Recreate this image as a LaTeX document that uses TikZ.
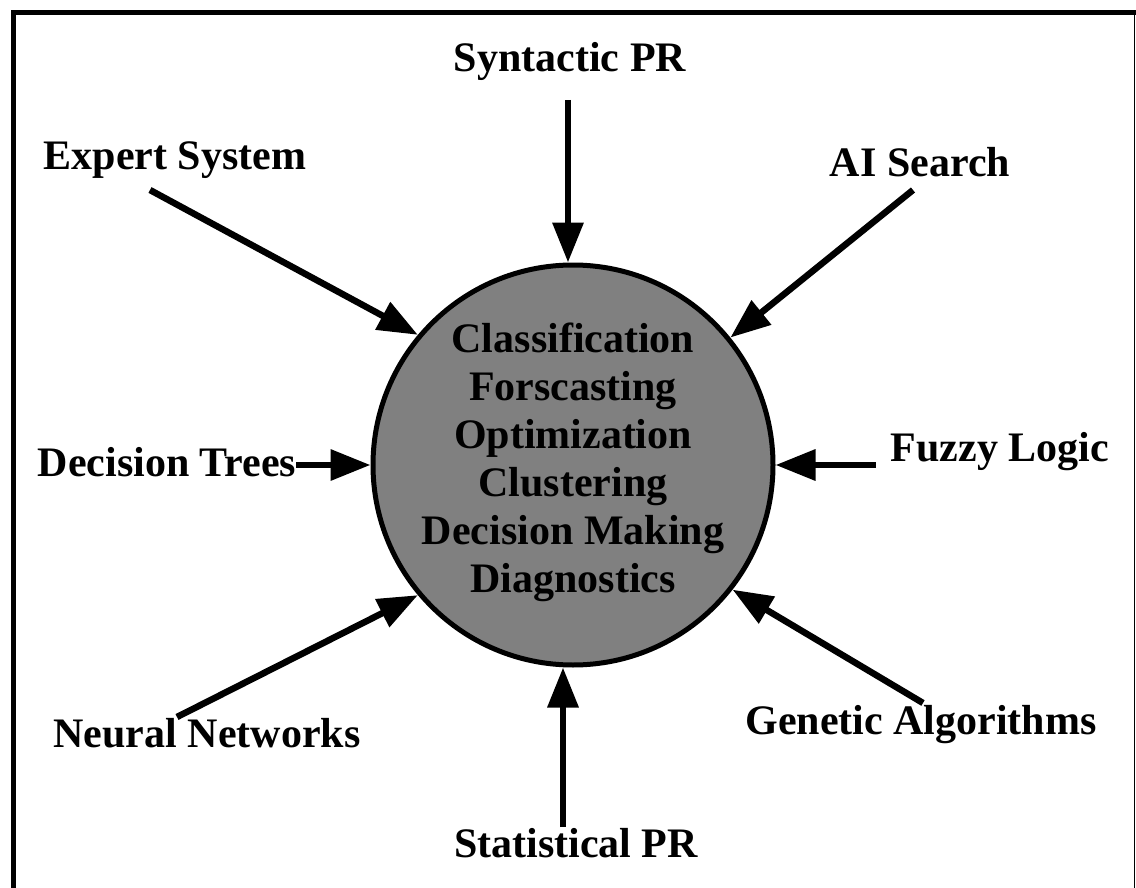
\documentclass[tikz,border=0pt]{standalone}
\usepackage{fontspec}
\setmainfont{Liberation Serif}
\usetikzlibrary{arrows.meta}
\begin{document}
\begin{tikzpicture}[x=1pt,y=-1pt,
  lbl/.style={font=\bfseries\fontsize{42}{48}\selectfont, inner sep=0pt, anchor=center},
  arr/.style={line width=6.5pt, -{Triangle[length=40pt,width=30pt]}},
  frame/.style={line width=5pt}]
\useasboundingbox (0,0) rectangle (1136,888);
\draw[frame] (13,888) -- (13,13) -- (1136,13);
\draw[line width=1.5pt] (1134.5,13) -- (1134.5,888);
\node[circle, draw, line width=5pt, fill=black!50, minimum size=400pt, inner sep=0pt] (core) at (573,465) {};
\node[lbl, align=center] (tasks) at (573,462) {Classification\\Forscasting\\Optimization\\Clustering\\Decision Making\\Diagnostics};
\node[lbl] (synt) at (570,61) {Syntactic PR};
\node[lbl] (expert) at (175,160) {Expert System};
\node[lbl] (ais) at (920,162) {AI Search};
\node[lbl] (dt) at (167,462) {Decision Trees};
\node[lbl] (fz) at (1000,452) {Fuzzy Logic};
\node[lbl] (nn) at (207,733) {Neural Networks};
\node[lbl] (ga) at (921,725) {Genetic Algorithms};
\node[lbl] (stat) at (576,843) {Statistical PR};
\coordinate (stail) at (568,100);
\coordinate (etail) at (150,190);
\coordinate (atail) at (913,190);
\coordinate (ntail) at (177,717);
\coordinate (gtail) at (923,703);
\coordinate (sttail) at (563,827);
\draw[arr] (stail) -- (stail |- core.north);
\draw[arr] (etail) -- (core.140);
\draw[arr] (atail) -- (core.39);
\draw[arr] (dt.east |- core.west) -- (core.west);
\draw[arr] ([xshift=-15pt]fz.west |- core.east) -- (core.east);
\draw[arr] (ntail) -- (core.220);
\draw[arr] (gtail) -- (core.-38);
\draw[arr] (sttail) -- (sttail |- core.south);
\end{tikzpicture}
\end{document}
